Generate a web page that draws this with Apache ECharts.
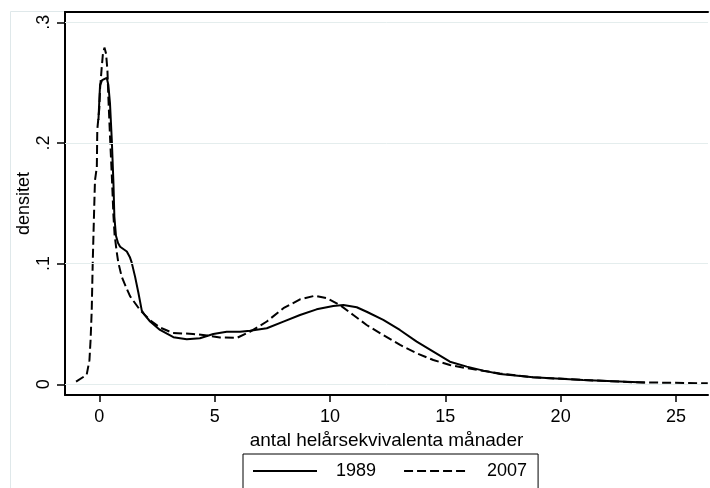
<!DOCTYPE html>
<html>
<head>
<meta charset="utf-8">
<script src="https://cdn.jsdelivr.net/npm/echarts@6/dist/echarts.min.js"></script>
<style>
html,body{margin:0;padding:0;background:#fff;}
#chart{width:710px;height:488px;}
</style>
</head>
<body>
<div id="chart"></div>
<script>
// ---- data ----
const seriesNames = ['1989', '2007'];

const x1989 = [-0.04, 0.00, 0.03, 0.12, 0.32, 0.39, 0.46, 0.54, 0.61, 0.65, 0.72, 0.81, 0.90, 1.19, 1.33, 1.40, 1.55, 1.69, 1.84, 1.98, 2.20, 2.63, 3.21, 3.79, 4.36, 4.94, 5.52, 6.10, 6.53, 7.26, 7.98, 8.70, 9.42, 10.14, 10.58, 11.16, 11.59, 12.31, 13.03, 13.76, 14.48, 15.20, 15.93, 16.65, 17.37, 18.80, 20.97, 23.65];
const y1989 = [0.219, 0.236, 0.248, 0.252, 0.254, 0.248, 0.233, 0.202, 0.167, 0.139, 0.123, 0.117, 0.114, 0.110, 0.105, 0.101, 0.089, 0.076, 0.061, 0.057, 0.052, 0.045, 0.039, 0.0373, 0.0381, 0.0417, 0.0436, 0.0436, 0.0444, 0.0464, 0.0519, 0.0574, 0.0621, 0.0649, 0.0657, 0.0638, 0.0601, 0.0533, 0.0450, 0.0353, 0.0270, 0.0187, 0.0146, 0.0113, 0.0085, 0.0058, 0.0036, 0.0015];

const x2007 = [-1.01, -0.55, -0.43, -0.38, -0.33, -0.29, -0.23, -0.19, -0.11, -0.09, -0.04, 0.00, 0.03, 0.10, 0.15, 0.22, 0.29, 0.35, 0.39, 0.46, 0.54, 0.61, 0.66, 0.75, 0.82, 0.97, 1.19, 1.33, 1.76, 2.20, 2.63, 3.19, 4.06, 4.67, 5.23, 5.96, 6.54, 7.26, 7.98, 8.70, 9.35, 9.86, 10.43, 11.01, 11.59, 12.31, 13.04, 13.76, 14.48, 15.20, 15.93, 17.37, 18.80, 20.97, 23.14, 26.38];
const y2007 = [0.0022, 0.0078, 0.020, 0.037, 0.062, 0.099, 0.142, 0.169, 0.180, 0.211, 0.221, 0.229, 0.245, 0.262, 0.273, 0.279, 0.274, 0.260, 0.238, 0.206, 0.173, 0.140, 0.124, 0.110, 0.101, 0.089, 0.079, 0.073, 0.0616, 0.053, 0.047, 0.0425, 0.0417, 0.0404, 0.0388, 0.0384, 0.0436, 0.052, 0.063, 0.0704, 0.0734, 0.0713, 0.0657, 0.0574, 0.0491, 0.0408, 0.0326, 0.0257, 0.0201, 0.016, 0.0133, 0.0089, 0.0058, 0.0036, 0.0017, 0.0008];

const xTicks = [0, 5, 10, 15, 20, 25];
const yTicks = [0, 0.1, 0.2, 0.3];
const yTickLabels = ['0', '.1', '.2', '.3'];

const xTitle = 'antal helårsekvivalenta månader';
const yTitle = 'densitet';

// ---- chart ----
const FONT = '"Liberation Sans", Arial, sans-serif';
const pairs = (xs, ys) => xs.map((x, i) => [x, ys[i]]);

const chart = echarts.init(document.getElementById('chart'), null, {renderer: 'canvas'});

const option = {
  backgroundColor: '#fff',
  animation: false,
  textStyle: {fontFamily: FONT, color: '#000'},
  graphic: [{
    type: 'rect', silent: true, z: -10,
    shape: {x: 10.5, y: 11.5, width: 720, height: 500},
    style: {fill: 'none', stroke: '#dfe8ea', lineWidth: 1}
  }],
  grid: {left: 65, right: 2, top: 12, bottom: 93, containLabel: false},
  xAxis: [{
    type: 'value', min: -1.49, max: 26.39,
    name: xTitle, nameLocation: 'middle', nameGap: 29,
    nameTextStyle: {fontSize: 19, color: '#000', fontFamily: FONT},
    axisLine: {show: true, onZero: false, lineStyle: {color: '#000', width: 2}},
    axisTick: {show: true, customValues: xTicks, length: 7, lineStyle: {color: '#000', width: 1.5}},
    axisLabel: {show: true, customValues: xTicks, margin: 13, fontSize: 18, color: '#000', fontFamily: FONT,
      formatter: v => String(v)},
    splitLine: {show: false}
  }, {
    type: 'value', position: 'top', min: -1.49, max: 26.39,
    axisLine: {show: true, onZero: false, lineStyle: {color: '#000', width: 2}},
    axisTick: {show: false}, axisLabel: {show: false}, splitLine: {show: false}
  }],
  yAxis: {
    type: 'value', min: -0.0089, max: 0.3085,
    name: yTitle, nameLocation: 'middle', nameGap: 32, nameRotate: 90, nameMoveOverlap: false,
    nameTextStyle: {fontSize: 18, color: '#000', fontFamily: FONT},
    axisLine: {show: true, onZero: false, lineStyle: {color: '#000', width: 2}},
    axisTick: {show: true, customValues: yTicks, length: 8, lineStyle: {color: '#000', width: 1.5}},
    axisLabel: {show: true, customValues: yTicks, rotate: 90, margin: 12, fontSize: 18, color: '#000', fontFamily: FONT,
      formatter: v => yTickLabels[yTicks.findIndex(t => Math.abs(t - v) < 1e-9)] ?? ''},
    splitLine: {show: false}
  },
  legend: {
    data: seriesNames,
    left: 243, top: 454, orient: 'horizontal',
    itemWidth: 64, itemHeight: 14, itemGap: 27,
    padding: [8, 11, 12, 9],
    borderColor: '#000', borderWidth: 1, borderRadius: 0,
    itemStyle: {opacity: 0},
    textStyle: {fontSize: 18, color: '#000', fontFamily: FONT, padding: [0, 0, 0, 14]}
  },
  series: [{
    name: seriesNames[0], type: 'line', data: pairs(x1989, y1989),
    showSymbol: false, symbol: 'none', smooth: false,
    lineStyle: {color: '#000', width: 2, type: 'solid'},
    itemStyle: {color: '#000'},
    markLine: {
      silent: true, symbol: 'none', label: {show: false}, animation: false,
      lineStyle: {color: '#e4eded', width: 1, type: 'solid'},
      data: yTicks.map(t => ({yAxis: t}))
    },
    z: 3
  }, {
    name: seriesNames[1], type: 'line', data: pairs(x2007, y2007),
    showSymbol: false, symbol: 'none', smooth: false,
    lineStyle: {color: '#000', width: 2, type: [9, 4]},
    itemStyle: {color: '#000'},
    z: 3
  }]
};
chart.setOption(option);
</script>
</body>
</html>
